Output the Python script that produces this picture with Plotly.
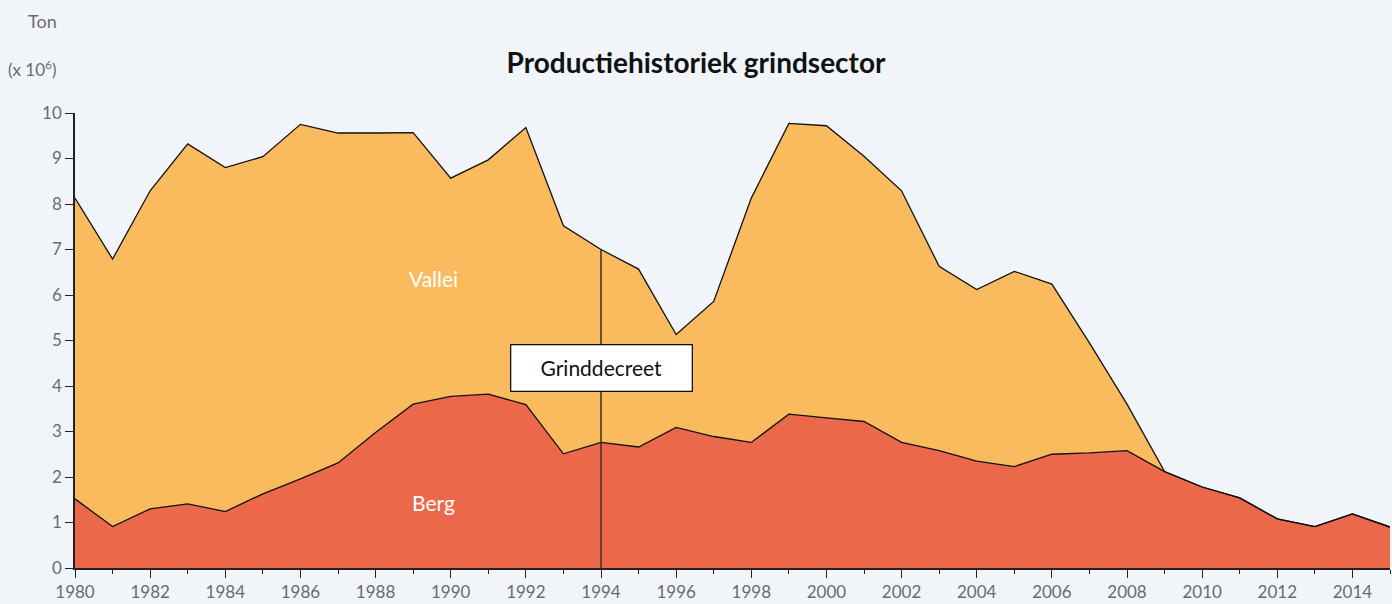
import plotly.graph_objects as go

# Annual gravel production (million tonnes), 1980-2015
years = list(range(1980, 2016))
berg = [1.52, 0.91, 1.30, 1.41, 1.24, 1.63, 1.96, 2.31, 2.98, 3.60,
        3.77, 3.82, 3.59, 2.51, 2.76, 2.66, 3.09, 2.89, 2.76, 3.38,
        3.30, 3.22, 2.76, 2.58, 2.35, 2.23, 2.50, 2.53, 2.58, 2.12,
        1.78, 1.54, 1.08, 0.91, 1.19, 0.90]
vallei = [6.61, 5.88, 6.99, 7.91, 7.56, 7.41, 7.79, 7.25, 6.58, 5.97,
          4.80, 5.15, 6.09, 5.01, 4.24, 3.91, 2.04, 2.97, 5.37, 6.39,
          6.42, 5.83, 5.53, 4.05, 3.77, 4.29, 3.74, 2.42, 1.02, 0.00,
          0.00, 0.00, 0.00, 0.00, 0.00, 0.00]

decree_year = 1994
y_ticks = list(range(0, 11))
x_ticks = list(range(1980, 2015, 2))

FONT = "Lato"
GREY = "#6b6b6b"
BG = "#f1f5fa"

W, H = 1392, 604
M_L, M_R, M_T, M_B = 75, 2, 113, 36
plot_h = H - M_T - M_B


def paper_y(px):
    """Convert a pixel row (from the top of the page) to paper coordinates."""
    return (H - M_B - px) / plot_h


fig = go.Figure()
fig.add_trace(go.Scatter(
    x=years, y=berg, name="Berg", stackgroup="prod", mode="lines",
    line=dict(color="#111111", width=1.3), fillcolor="#ec684b",
))
fig.add_trace(go.Scatter(
    x=years, y=vallei, name="Vallei", stackgroup="prod", mode="lines",
    line=dict(color="#111111", width=1.3), fillcolor="#f9bb5e",
))

# Marker line at the year of the gravel decree, up to the total production
i_dec = years.index(decree_year)
total_dec = berg[i_dec] + vallei[i_dec]
fig.add_shape(type="line", x0=decree_year, x1=decree_year, y0=0, y1=total_dec,
              xref="x", yref="y", line=dict(color="#3b2f22", width=1.5), layer="above")

fig.add_annotation(x=decree_year, y=4.40, xref="x", yref="y", text="Grinddecreet",
                   showarrow=False, bgcolor="white", bordercolor="#111111",
                   borderwidth=1.3, borderpad=2, width=176, height=41,
                   font=dict(family=FONT, size=21, color="#111111"))
fig.add_annotation(x=1989.55, y=6.36, xref="x", yref="y", text="Vallei",
                   showarrow=False, font=dict(family=FONT, size=21, color="white"))
fig.add_annotation(x=1989.55, y=1.45, xref="x", yref="y", text="Berg",
                   showarrow=False, font=dict(family=FONT, size=21, color="white"))

# Unit labels above the y axis
fig.add_annotation(x=-0.012, y=paper_y(21), xref="paper", yref="paper",
                   xanchor="right", yanchor="middle", text="Ton", showarrow=False,
                   font=dict(family=FONT, size=18, color=GREY))
fig.add_annotation(x=-0.012, y=paper_y(69), xref="paper", yref="paper",
                   xanchor="right", yanchor="middle", text="(x 10<sup>6</sup>)",
                   showarrow=False, font=dict(family=FONT, size=17, color=GREY))

fig.update_layout(
    width=W, height=H,
    margin=dict(l=M_L, r=M_R, t=M_T, b=M_B),
    paper_bgcolor=BG, plot_bgcolor=BG,
    showlegend=False,
    font=dict(family=FONT, size=16, color=GREY),
    title=dict(text="<b>Productiehistoriek grindsector</b>", x=0.5, xanchor="center",
               y=1 - 63 / H, yanchor="middle",
               font=dict(family=FONT, size=28, color="#111111")),
    xaxis=dict(range=[1980, 2015], tickvals=x_ticks, ticks="outside", ticklen=8,
               tickwidth=1.3, tickcolor="#222222", showline=True, linecolor="#222222",
               linewidth=1.5, showgrid=False, zeroline=False,
               tickfont=dict(family=FONT, size=17, color=GREY),
               minor=dict(dtick=1, ticks="outside", ticklen=4, tickwidth=1.2,
                          tickcolor="#222222", showgrid=False)),
    yaxis=dict(range=[0, 10], tickvals=y_ticks, ticks="outside", ticklen=8,
               tickwidth=1.3, tickcolor="#222222", showline=True, linecolor="#222222",
               linewidth=1.5, showgrid=False, zeroline=False,
               tickfont=dict(family=FONT, size=17, color=GREY)),
)

fig.write_html("out.html")
